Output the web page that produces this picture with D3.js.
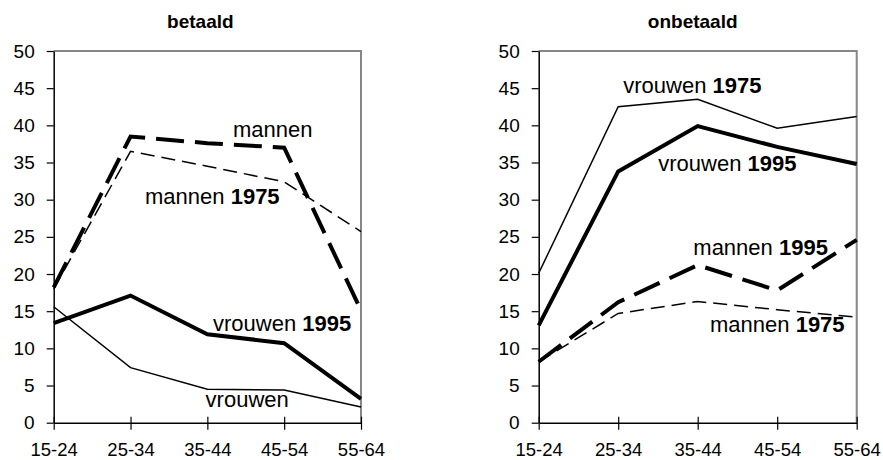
<!DOCTYPE html>
<html>
<head>
<meta charset="utf-8">
<script src="https://cdn.jsdelivr.net/npm/d3@7"></script>
<style>
  body { margin: 0; background: #fff; }
  svg { display: block; font-family: "Liberation Sans", Arial, sans-serif; }
</style>
</head>
<body>
<svg id="chart" width="883" height="460"></svg>
<script>
//Age groups along the x axis (shared by both panels)
var ageGroups = ["15-24", "25-34", "35-44", "45-54", "55-64"];
var yTicks = [0, 5, 10, 15, 20, 25, 30, 35, 40, 45, 50];

//Panel titles
var panelTitles = ["betaald", "onbetaald"];

//betaald (paid work), hours per week
var paidMen1995 = [18.2, 38.5, 37.6, 37.0, 15.1];
var paidMen1975 = [18.0, 36.5, 34.5, 32.4, 25.7];
var paidWomen1995 = [13.4, 17.1, 11.9, 10.7, 3.2];
var paidWomen1975 = [15.6, 7.4, 4.5, 4.4, 2.1];

//onbetaald (unpaid work), hours per week
var unpaidWomen1975 = [20.1, 42.5, 43.5, 39.6, 41.2];
var unpaidWomen1995 = [13.1, 33.8, 39.9, 37.1, 34.8];
var unpaidMen1995 = [8.2, 16.2, 21.2, 17.8, 24.6];
var unpaidMen1975 = [8.2, 14.7, 16.3, 15.2, 14.2];

//Line labels: [text, bold year]
var paidLabels = [["mannen", ""], ["mannen ", "1975"], ["vrouwen ", "1995"], ["vrouwen", ""]];
var unpaidLabels = [["vrouwen ", "1975"], ["vrouwen ", "1995"], ["mannen ", "1995"], ["mannen ", "1975"]];

var svg = d3.select("#chart");

//Plot area top / bottom (same for both panels)
var plotTop = 51, plotBottom = 422.7;

//style per series: 1995 thick, 1975 thin, men dashed
var thick = {width: 4, dash: null};
var thickDash = {width: 4, dash: "28,11"};
var thin = {width: 1.5, dash: null};
var thinDash = {width: 1.5, dash: "14,7"};

var panels = [
  {left: 53.7, right: 361, title: panelTitles[0],
   series: [
     {values: paidWomen1975, style: thin},
     {values: paidMen1975, style: thinDash},
     {values: paidWomen1995, style: thick},
     {values: paidMen1995, style: thickDash}
   ],
   //label anchors in (category index, value) units
   labels: paidLabels,
   labelPos: [[2.334, 38.4], [1.189, 29.4], [2.074, 12.3], [1.977, 2.1]]
  },
  {left: 538.7, right: 856.7, title: panelTitles[1],
   series: [
     {values: unpaidWomen1975, style: thin},
     {values: unpaidMen1975, style: thinDash},
     {values: unpaidWomen1995, style: thick},
     {values: unpaidMen1995, style: thickDash}
   ],
   labels: unpaidLabels,
   labelPos: [[1.064, 44.35], [1.504, 33.87], [1.945, 22.54], [2.155, 12.23]]
  }
];

panels.forEach(function(p) {
  drawPanel(p);
});

function drawPanel(p) {
  var g = svg.append("g");

  var x = d3.scalePoint()
  .domain(ageGroups)
  .range([p.left, p.right])
  .padding(0);

  //fractional category position for the labels
  var xi = d3.scaleLinear()
  .domain([0, ageGroups.length - 1])
  .range([p.left, p.right]);

  var y = d3.scaleLinear()
  .domain([0, 50])
  .range([plotBottom, plotTop]);

  //Grey frame on top and right
  g.append("path")
  .attr("d", "M" + p.left + "," + y(50) + "H" + p.right + "V" + y(0))
  .attr("fill", "none")
  .attr("stroke", "#868686")
  .attr("stroke-width", 2);

  //Y axis
  var yAxis = g.append("g")
  .attr("transform", "translate(" + p.left + ",0)")
  .call(d3.axisLeft(y).tickValues(yTicks).tickSize(7).tickPadding(12).tickSizeOuter(0));

  yAxis.select(".domain").attr("stroke", "#000").attr("stroke-width", 1.5);
  yAxis.selectAll(".tick line").attr("stroke", "#000").attr("stroke-width", 1.2);
  yAxis.selectAll(".tick text")
  .attr("font-family", "Liberation Sans, Arial, sans-serif")
  .attr("font-size", 19)
  .attr("fill", "#000");

  //X axis, ticks cross the axis line
  var xAxis = g.append("g")
  .attr("transform", "translate(0," + y(0) + ")")
  .call(d3.axisBottom(x).tickSizeInner(7).tickSizeOuter(0).tickPadding(13));

  xAxis.select(".domain").attr("stroke", "#000").attr("stroke-width", 1.5);
  xAxis.selectAll(".tick line")
  .attr("y1", -6)
  .attr("stroke", "#000")
  .attr("stroke-width", 1.2);
  xAxis.selectAll(".tick text")
  .attr("font-family", "Liberation Sans, Arial, sans-serif")
  .attr("font-size", 18.5)
  .attr("fill", "#000");

  //Lines
  var line = d3.line()
  .x(function(d, i) { return x(ageGroups[i]); })
  .y(function(d) { return y(d); });

  g.selectAll(".series")
  .data(p.series)
  .enter().append("path")
  .attr("class", "series")
  .attr("d", function(d) { return line(d.values); })
  .attr("fill", "none")
  .attr("stroke", "#000")
  .attr("stroke-width", function(d) { return d.style.width; })
  .attr("stroke-dasharray", function(d) { return d.style.dash; })
  .attr("stroke-linejoin", "miter");

  //Line labels, year in bold
  var labels = g.selectAll(".label")
  .data(p.labels)
  .enter().append("text")
  .attr("class", "label")
  .attr("x", function(d, i) { return xi(p.labelPos[i][0]); })
  .attr("y", function(d, i) { return y(p.labelPos[i][1]); })
  .attr("font-size", 22)
  .attr("fill", "#000");

  labels.append("tspan").text(function(d) { return d[0]; });
  labels.append("tspan")
  .attr("font-weight", "bold")
  .text(function(d) { return d[1]; });

  //Panel title
  g.append("text")
  .attr("x", (p.left + p.right) / 2 + (p.left < 100 ? -7 : -5))
  .attr("y", 28.3)
  .attr("text-anchor", "middle")
  .attr("font-size", 19)
  .attr("font-weight", "bold")
  .text(p.title);
}
</script>
</body>
</html>
